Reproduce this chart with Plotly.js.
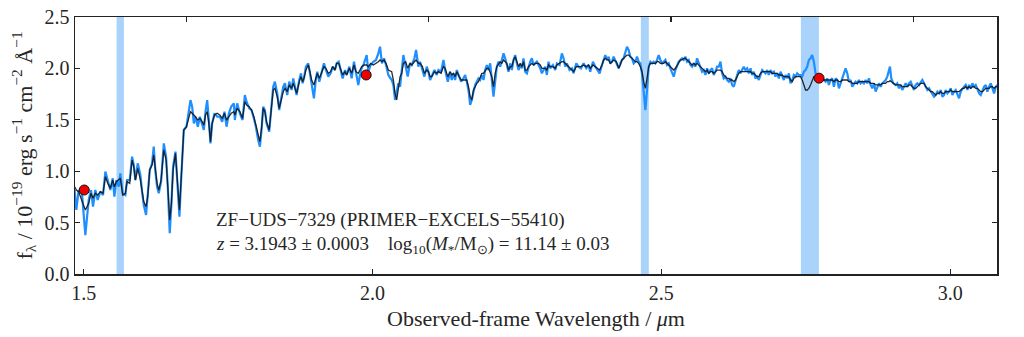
<!DOCTYPE html>
<html>
<head>
<meta charset="utf-8">
<script src="https://cdn.plot.ly/plotly-3.0.1.min.js"></script>
<style>html,body{margin:0;padding:0;background:#fff;}#chart{width:1024px;height:337px;}</style>
</head>
<body>
<div id="chart"></div>
<script>
// Observed wavelength (micron), observed spectrum (blue) and model (black), f_lambda / 1e-19
const wavelength = [
1.4844,1.4873,1.4913,1.4971,1.5029,1.5087,1.5127,1.5162,1.5202,1.5243,1.5289,1.5335,1.5376,1.5416,1.5462,1.5503,1.5532,1.5566,1.5607,1.5635,
1.5676,1.5722,1.5751,1.5797,1.5838,1.5867,1.5895,1.5936,1.5982,1.6011,1.6040,1.6080,1.6109,1.6144,1.6184,1.6213,1.6242,1.6271,1.6300,1.6340,
1.6387,1.6427,1.6456,1.6490,1.6519,1.6548,1.6589,1.6629,1.6658,1.6687,1.6710,1.6733,1.6779,1.6820,1.6849,1.6878,1.6907,1.6935,1.6976,1.7011,
1.7051,1.7080,1.7109,1.7138,1.7167,1.7195,1.7224,1.7265,1.7311,1.7357,1.7398,1.7438,1.7473,1.7514,1.7554,1.7600,
1.7617,1.7657,1.7704,1.7750,1.7790,1.7819,1.7866,1.7906,1.7946,1.7981,1.8021,1.8050,1.8079,1.8108,1.8137,1.8166,1.8212,1.8252,1.8281,1.8310,
1.8351,1.8385,1.8426,1.8455,1.8484,1.8524,1.8559,1.8599,1.8628,1.8657,1.8686,1.8732,1.8761,1.8790,1.8813,1.8847,1.8888,1.8917,1.8946,1.8986,
1.9021,1.9044,1.9079,1.9119,1.9159,1.9194,1.9235,1.9275,1.9310,1.9350,1.9379,1.9414,1.9449,1.9483,1.9523,1.9552,1.9599,1.9639,1.9679,1.9714,
1.9754,1.9783,1.9812,1.9853,1.9899,1.9928,1.9968,2.0014,2.0060,2.0101,2.0130,2.0164,2.0199,2.0234,2.0274,
2.0332,2.0361,2.0390,2.0419,2.0448,2.0477,2.0506,2.0534,2.0575,2.0609,2.0650,2.0679,2.0725,2.0754,2.0794,2.0823,2.0864,2.0898,2.0939,2.0968,
2.0997,2.1025,2.1072,2.1112,2.1141,2.1187,2.1228,2.1257,2.1303,2.1343,2.1372,2.1401,2.1430,2.1459,2.1499,2.1534,2.1574,2.1603,2.1632,2.1661,
2.1690,2.1719,2.1748,2.1777,2.1805,2.1834,2.1863,2.1892,2.1921,2.1950,2.1979,2.2008,2.2037,2.2065,2.2094,2.2123,2.2152,2.2181,2.2210,2.2239,
2.2268,2.2297,2.2325,2.2354,2.2383,2.2412,2.2441,2.2470,2.2499,2.2528,2.2557,2.2585,2.2614,2.2643,2.2672,2.2701,2.2730,2.2759,2.2788,2.2817,
2.2845,2.2874,2.2903,2.2932,
2.2990,2.3018,2.3047,2.3076,2.3122,2.3163,2.3192,2.3238,2.3278,2.3307,2.3336,2.3365,2.3411,2.3452,2.3481,2.3527,2.3567,2.3608,2.3654,2.3700,
2.3741,2.3769,2.3816,2.3856,2.3896,2.3931,2.3972,2.4001,2.4030,2.4058,2.4087,2.4116,2.4145,2.4174,2.4220,2.4261,2.4290,2.4318,2.4347,2.4376,
2.4405,2.4434,2.4463,2.4492,2.4521,2.4550,2.4578,2.4607,2.4636,2.4665,2.4694,2.4723,2.4752,2.4781,2.4810,2.4839,2.4867,2.4896,2.4925,2.4954,
2.4983,2.5012,2.5041,2.5070,2.5098,2.5127,2.5156,2.5185,2.5214,2.5243,2.5272,2.5301,2.5330,2.5358,2.5387,2.5416,2.5445,2.5474,2.5503,2.5532,
2.5561,2.5590,2.5618,
2.5676,2.5705,2.5734,2.5763,2.5792,2.5820,2.5849,2.5878,2.5907,2.5936,2.5965,2.5994,2.6023,2.6052,2.6080,2.6109,2.6138,2.6167,2.6196,2.6225,
2.6254,2.6283,2.6312,2.6340,2.6369,2.6398,2.6427,2.6456,2.6485,2.6514,2.6543,2.6571,2.6600,2.6629,2.6658,2.6687,2.6716,2.6745,2.6774,2.6803,
2.6831,2.6860,2.6889,2.6918,2.6947,2.6976,2.7005,2.7034,2.7063,2.7091,2.7120,2.7149,2.7178,2.7207,2.7236,2.7265,2.7294,2.7323,2.7351,2.7380,
2.7409,2.7438,2.7467,2.7496,2.7525,2.7554,2.7582,2.7611,2.7640,2.7669,2.7698,2.7727,2.7756,2.7785,2.7814,2.7843,2.7871,2.7900,2.7929,2.7958,
2.7987,2.8016,2.8045,2.8074,2.8103,2.8131,2.8160,2.8189,2.8218,2.8247,2.8276,2.8305,
2.8362,2.8391,2.8420,2.8449,2.8478,2.8507,2.8536,2.8565,2.8593,2.8622,2.8651,2.8680,2.8709,2.8738,2.8767,2.8796,2.8824,2.8853,2.8882,2.8911,
2.8940,2.8957,2.8980,2.9015,2.9056,2.9084,2.9113,2.9142,2.9171,2.9200,2.9229,2.9258,2.9287,2.9316,2.9344,2.9373,2.9402,2.9431,2.9460,2.9489,
2.9518,2.9547,2.9576,2.9604,2.9633,2.9662,2.9691,2.9720,2.9749,2.9778,2.9807,2.9836,2.9864,2.9893,2.9922,2.9951,2.9980,3.0009,3.0038,3.0067,
3.0096,3.0124,3.0153,3.0182,3.0211,3.0240,3.0269,3.0298,3.0327,3.0356,3.0384,3.0413,3.0442,3.0471,3.0500,3.0529,3.0558,3.0587,3.0616,3.0644,
3.0673,3.0702,3.0731,3.0760,3.0789,3.0818
];
const observedFlux = [
0.817,0.623,0.817,0.785,0.379,0.720,0.817,0.655,0.817,0.720,0.801,0.768,0.996,0.898,0.817,0.931,0.752,0.914,0.849,0.979,
0.785,0.768,0.914,0.914,1.141,1.060,0.914,1.077,0.963,0.801,0.671,0.574,0.752,1.012,1.077,1.239,0.996,0.849,0.785,0.898,
1.271,1.141,0.849,0.396,0.687,1.044,1.190,0.882,0.558,0.914,1.239,1.401,1.433,1.563,1.692,1.628,1.465,1.530,1.433,1.530,
1.465,1.401,1.579,1.692,1.498,1.271,1.465,1.563,1.530,1.530,1.482,1.579,1.433,1.563,1.628,1.660,
1.498,1.660,1.563,1.498,1.741,1.676,1.612,1.595,1.514,1.433,1.304,1.239,1.401,1.628,1.595,1.465,1.384,1.660,1.822,1.871,
1.757,1.595,1.725,1.822,1.855,1.741,1.871,1.790,1.903,1.806,1.741,1.887,1.952,1.855,1.903,2.017,2.049,1.952,1.855,1.709,
1.903,1.968,1.871,1.952,2.049,1.984,1.920,1.952,2.017,1.984,2.049,2.065,1.968,1.903,1.984,1.936,2.017,1.903,2.065,1.952,
1.839,1.936,2.001,2.049,2.130,1.968,2.033,2.065,2.082,2.146,2.211,2.049,2.098,2.033,1.936,
1.887,1.839,1.693,1.790,1.855,1.822,1.952,2.130,2.017,1.920,2.049,2.033,2.098,2.179,2.017,2.065,1.984,1.920,2.017,1.968,
1.887,1.920,1.984,1.936,1.984,1.968,2.082,1.984,1.871,1.968,1.887,1.952,1.887,1.984,1.920,1.871,1.903,1.936,1.871,1.790,
1.644,1.693,1.774,1.839,1.871,1.903,1.887,1.936,1.887,1.984,2.033,1.984,2.049,1.887,1.725,1.871,2.017,2.065,2.017,2.082,
2.146,2.098,2.017,1.968,2.049,1.984,2.082,2.130,2.049,1.984,2.033,2.001,2.098,1.968,1.952,2.017,2.065,2.098,2.033,2.049,
2.065,2.033,2.001,1.952,
2.017,1.936,2.065,2.001,2.033,1.984,2.049,2.033,2.146,2.098,2.017,2.049,1.984,2.001,1.952,2.049,2.017,2.001,2.049,2.001,
2.033,1.968,2.065,2.017,1.984,1.952,2.033,2.082,2.130,2.082,2.114,2.049,2.065,2.114,2.049,2.001,2.049,2.082,2.098,2.146,
2.211,2.179,2.114,2.098,2.049,2.065,2.114,2.065,2.049,1.952,1.725,1.595,1.790,2.017,2.065,2.049,2.065,2.049,2.082,2.130,
2.082,2.049,2.065,2.082,2.033,2.049,2.001,1.952,1.920,1.984,2.033,2.065,2.082,2.098,2.082,2.114,2.065,2.082,2.033,2.017,
2.049,2.017,2.098,
2.017,1.968,1.984,1.936,2.001,1.952,1.984,2.001,1.936,1.968,2.017,2.017,2.065,1.952,1.903,1.920,1.887,1.871,1.903,1.839,
1.822,1.887,1.936,1.984,1.952,1.984,2.017,1.984,2.001,1.952,2.001,1.936,1.968,1.903,1.920,1.887,1.936,1.984,1.968,1.952,
1.984,1.936,1.984,1.952,1.968,1.920,1.952,1.903,1.968,1.920,1.887,1.936,1.903,1.952,1.855,1.887,1.936,1.920,1.952,1.936,
1.936,1.920,1.968,1.984,2.017,2.082,2.098,2.130,2.065,1.952,1.903,1.920,1.887,1.903,1.887,1.871,1.903,1.839,1.887,1.903,
1.822,1.903,1.887,1.806,1.855,1.903,1.968,2.001,1.952,1.871,1.887,1.822,
1.871,1.855,1.887,1.855,1.871,1.855,1.887,1.855,1.903,1.839,1.806,1.855,1.774,1.822,1.855,1.822,1.855,1.871,1.887,1.920,
2.001,2.017,1.903,1.855,1.839,1.855,1.806,1.839,1.790,1.822,1.855,1.822,1.855,1.871,1.822,1.790,1.839,1.855,1.839,1.871,
1.887,1.855,1.822,1.790,1.806,1.774,1.741,1.725,1.741,1.774,1.757,1.790,1.725,1.741,1.790,1.757,1.774,1.806,1.741,1.774,
1.790,1.757,1.709,1.774,1.806,1.822,1.839,1.790,1.839,1.806,1.855,1.822,1.839,1.806,1.757,1.741,1.790,1.822,1.839,1.774,
1.822,1.855,1.806,1.757,1.822,1.839
];
const modelFlux = [
0.849,0.817,0.801,0.720,0.623,0.687,0.785,0.736,0.785,0.768,0.801,0.785,0.947,0.882,0.833,0.914,0.849,0.898,0.914,0.931,
0.768,0.785,0.898,0.882,1.109,1.044,0.914,1.028,0.914,0.817,0.704,0.655,0.752,1.012,1.060,1.158,1.012,0.882,0.817,0.914,
1.206,1.109,0.849,0.525,0.687,1.012,1.174,0.849,0.623,0.914,1.206,1.401,1.433,1.530,1.579,1.563,1.547,1.530,1.498,1.514,
1.482,1.449,1.547,1.579,1.465,1.287,1.465,1.547,1.563,1.547,1.514,1.563,1.498,1.530,1.563,1.579,
1.547,1.612,1.579,1.514,1.676,1.644,1.628,1.595,1.530,1.449,1.336,1.287,1.417,1.612,1.579,1.482,1.401,1.628,1.790,1.806,
1.725,1.612,1.725,1.774,1.806,1.774,1.839,1.806,1.855,1.806,1.757,1.871,1.920,1.871,1.903,1.984,2.033,1.968,1.887,1.839,
1.903,1.952,1.903,1.968,2.017,2.001,1.952,1.968,2.017,1.984,2.049,2.049,1.984,1.936,1.968,1.936,2.001,1.952,2.033,1.968,
1.952,1.984,2.017,2.033,2.033,2.017,2.049,2.033,2.049,2.065,2.082,2.065,2.082,2.049,1.984,
1.968,1.887,1.757,1.693,1.790,1.920,1.952,2.049,2.065,2.001,2.049,2.033,2.065,2.082,2.049,2.049,2.017,1.952,1.984,1.968,
1.920,1.920,1.968,1.952,1.968,1.952,2.017,2.001,1.920,1.968,1.936,1.952,1.920,1.968,1.920,1.887,1.887,1.887,1.887,1.822,
1.725,1.693,1.790,1.822,1.855,1.871,1.920,1.952,1.952,1.984,2.001,2.001,1.952,1.920,1.822,1.952,2.017,2.049,2.065,2.049,
2.082,2.065,2.049,1.984,2.017,2.017,2.082,2.114,2.065,2.017,2.049,2.017,2.065,1.984,1.984,2.017,2.033,2.049,2.033,2.049,
2.049,2.049,2.033,2.001,
2.001,1.984,2.033,2.017,2.017,2.001,2.033,2.049,2.065,2.065,2.049,2.033,2.001,1.984,1.968,2.017,2.017,2.017,2.033,2.017,
2.033,2.001,2.033,2.017,2.001,1.984,2.033,2.082,2.098,2.082,2.082,2.049,2.065,2.082,2.065,2.001,2.033,2.082,2.098,2.114,
2.130,2.130,2.114,2.098,2.082,2.065,2.065,2.049,2.017,1.968,1.871,1.806,1.903,2.017,2.049,2.049,2.049,2.049,2.065,2.065,
2.049,2.049,2.049,2.065,2.049,2.033,2.017,2.001,1.984,2.001,2.033,2.065,2.082,2.082,2.098,2.098,2.082,2.065,2.049,2.033,
2.049,2.033,2.049,
2.017,2.001,1.984,1.968,1.984,1.952,1.968,1.968,1.952,1.968,1.984,1.984,1.984,1.968,1.936,1.920,1.903,1.903,1.887,1.887,
1.871,1.887,1.920,1.952,1.968,1.968,1.968,1.968,1.968,1.968,1.968,1.952,1.952,1.936,1.920,1.920,1.952,1.968,1.968,1.968,
1.968,1.968,1.968,1.952,1.952,1.952,1.952,1.936,1.936,1.936,1.920,1.920,1.920,1.920,1.887,1.871,1.903,1.920,1.920,1.920,
1.920,1.887,1.839,1.790,1.790,1.806,1.839,1.887,1.920,1.920,1.920,1.920,1.903,1.903,1.887,1.887,1.887,1.887,1.887,1.887,
1.871,1.887,1.887,1.871,1.871,1.887,1.887,1.887,1.887,1.871,1.871,1.855,
1.855,1.855,1.871,1.871,1.871,1.871,1.871,1.871,1.871,1.855,1.855,1.855,1.839,1.839,1.839,1.839,1.855,1.855,1.855,1.871,
1.871,1.881,1.871,1.855,1.839,1.839,1.839,1.839,1.822,1.822,1.822,1.822,1.839,1.839,1.822,1.806,1.806,1.822,1.839,1.855,
1.855,1.855,1.822,1.806,1.790,1.774,1.774,1.757,1.741,1.757,1.757,1.774,1.757,1.757,1.774,1.774,1.774,1.790,1.774,1.774,
1.774,1.774,1.774,1.790,1.806,1.806,1.822,1.806,1.822,1.806,1.822,1.822,1.806,1.806,1.790,1.774,1.774,1.790,1.806,1.806,
1.806,1.822,1.822,1.806,1.822,1.822
];
// Photometric points
const photWavelength = [1.501, 1.989, 2.773];
const photFlux = [0.817, 1.936, 1.905];
// Shaded wavelength bands (micron)
const bandStart = [1.557, 2.4645, 2.7415];
const bandEnd = [1.5697, 2.4783, 2.7727];
// Axes
const xRange = [1.485, 3.081];
const yRange = [0, 2.5];
const xTicks = [1.5, 2.0, 2.5, 3.0];
const yTicks = [0.0, 0.5, 1.0, 1.5, 2.0, 2.5];
const restTicks = [0.4, 0.5, 0.6, 0.7];
const redshift = 3.1943;
const label1 = 'ZF\u2212UDS\u22127329 (PRIMER\u2212EXCELS\u221255410)';
const label2 = '<i>z</i> = 3.1943 \u00b1 0.0003\u00a0\u00a0\u00a0\u00a0log<sub>10</sub>(<i>M</i><sub>*</sub>/M<sub>\u2299</sub>) = 11.14 \u00b1 0.03';

const FONT = 'Liberation Serif, Times New Roman, serif';
const TXT = '#262626';

const traces = [
  {x: wavelength, y: observedFlux, type: 'scatter', mode: 'lines',
   line: {color: '#1f8fff', width: 2.2}, hoverinfo: 'skip', showlegend: false},
  {x: wavelength, y: modelFlux, type: 'scatter', mode: 'lines',
   line: {color: 'rgba(20,20,20,0.9)', width: 1.3}, hoverinfo: 'skip', showlegend: false},
  {x: photWavelength, y: photFlux, type: 'scatter', mode: 'markers',
   marker: {color: '#ee0000', size: 10, line: {color: '#111', width: 1}},
   hoverinfo: 'skip', showlegend: false},
  {x: wavelength.map(w => w / (1 + redshift)), y: modelFlux, xaxis: 'x2', type: 'scatter',
   mode: 'markers', marker: {opacity: 0}, hoverinfo: 'skip', showlegend: false}
];

const shapes = bandStart.map((s, i) => ({
  type: 'rect', xref: 'x', yref: 'paper', x0: s, x1: bandEnd[i], y0: 0, y1: 1,
  fillcolor: '#a9d3fb', line: {width: 0}, layer: 'below'
}));

const layout = {
  width: 1024, height: 337,
  margin: {l: 75, r: 27, t: 17, b: 63},
  paper_bgcolor: '#fff', plot_bgcolor: '#fff',
  font: {family: FONT, color: TXT, size: 19},
  showlegend: false,
  xaxis: {
    range: xRange, tickvals: xTicks, ticktext: xTicks.map(v => v.toFixed(1)),
    ticks: 'inside', ticklen: 5, tickwidth: 1.3, tickcolor: '#222',
    showline: true, linecolor: '#222', linewidth: 1.5, mirror: true,
    showgrid: false, zeroline: false,
    tickfont: {family: FONT, size: 20, color: TXT},
    title: {text: 'Observed-frame Wavelength / <i>\u03bc</i>m', font: {family: FONT, size: 22, color: TXT}, standoff: 8}
  },
  xaxis2: {
    overlaying: 'x', side: 'top', anchor: 'y',
    range: xRange.map(v => v / (1 + redshift)), tickvals: restTicks,
    ticks: 'inside', ticklen: 5, tickwidth: 1.3, tickcolor: '#222',
    showticklabels: false, showline: false, showgrid: false, zeroline: false
  },
  yaxis: {
    range: yRange, tickvals: yTicks, ticktext: yTicks.map(v => v.toFixed(1)),
    ticks: 'inside', ticklen: 5, tickwidth: 1.3, tickcolor: '#222',
    showline: true, linecolor: '#222', linewidth: 1.5, mirror: 'ticks',
    showgrid: false, zeroline: false,
    tickfont: {family: FONT, size: 20, color: TXT},
    title: {text: 'f<sub>\u03bb</sub> / 10<sup>\u221219</sup> erg s<sup>\u22121</sup> cm<sup>\u22122</sup> \u00c5<sup>\u22121</sup>',
            font: {family: FONT, size: 22, color: TXT}, standoff: 6}
  },
  shapes: shapes,
  annotations: [
    {xref: 'paper', yref: 'paper', x: 0.1508, y: 0.212, xanchor: 'left', yanchor: 'middle',
     text: label1, showarrow: false, font: {family: FONT, size: 19, color: TXT}},
    {xref: 'paper', yref: 'paper', x: 0.1508, y: 0.112, xanchor: 'left', yanchor: 'middle',
     text: label2, showarrow: false, font: {family: FONT, size: 19, color: TXT}}
  ]
};

Plotly.newPlot('chart', traces, layout, {staticPlot: true, displayModeBar: false});
</script>
</body>
</html>
